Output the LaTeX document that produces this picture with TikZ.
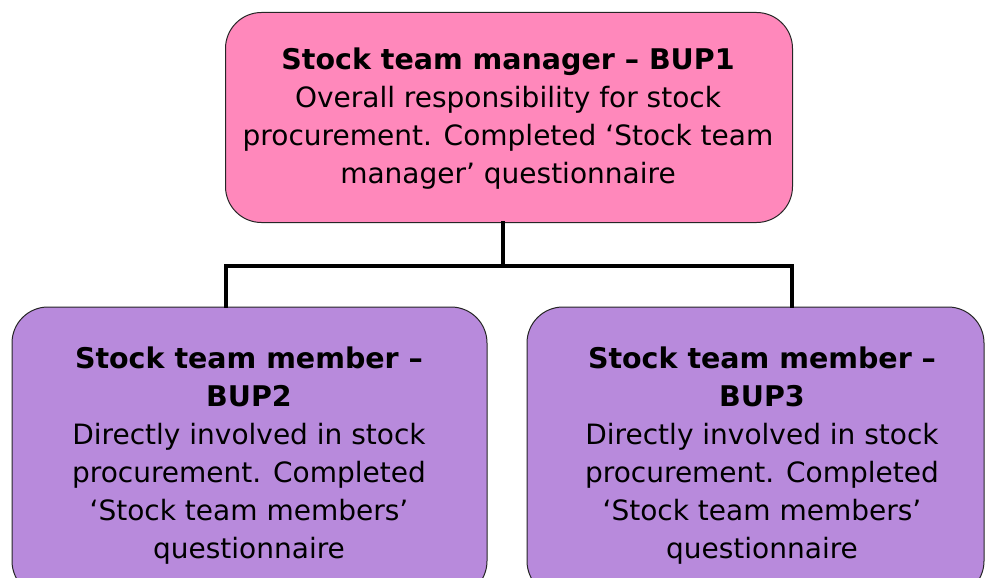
\documentclass[tikz,border=0pt]{standalone}
\usepackage{fontspec}
\setmainfont{DejaVu Sans}
\definecolor{pinkbox}{RGB}{255,136,187}
\definecolor{purplebox}{RGB}{184,138,220}
\newcommand{\ttl}[1]{{\fontsize{28.5}{38}\selectfont\bfseries #1}}
\begin{document}
\begin{tikzpicture}[x=1pt,y=-1pt,
  box/.style={draw=black!85, line width=1pt, rounded corners=36pt, inner sep=0pt},
  txt/.style={align=center, anchor=base, inner sep=0pt, font=\fontsize{28}{38}\selectfont},
  conn/.style={line width=3.5pt, line cap=rect}]
\useasboundingbox (0,0) rectangle (985,578);
\node[box, fill=pinkbox, minimum width=567pt, minimum height=210pt] (top) at (509,117.5) {};
\node[box, fill=purplebox, minimum width=475pt, minimum height=290pt] (left) at (249.5,452) {};
\node[box, fill=purplebox, minimum width=457pt, minimum height=290pt] (right) at (755.5,452) {};
\node[txt] (ttop) at (508,183) {\ttl{Stock team manager – BUP1}\\Overall responsibility for stock\\procurement. Completed ‘Stock team\\manager’ questionnaire};
\node[txt] (tleft) at (249,558) {\ttl{Stock team member –}\\\ttl{BUP2}\\Directly involved in stock\\procurement. Completed\\‘Stock team members’\\questionnaire};
\node[txt] (tright) at (762,558) {\ttl{Stock team member –}\\\ttl{BUP3}\\Directly involved in stock\\procurement. Completed\\‘Stock team members’\\questionnaire};
\coordinate (hub) at (503,266);
\coordinate (hl) at (226,266);
\coordinate (hr) at (792,266);
\draw[conn] (top.south -| hub) -- (hub);
\draw[conn] (left.north -| hl) -- (hl) -- (hr) -- (right.north -| hr);
\end{tikzpicture}
\end{document}
